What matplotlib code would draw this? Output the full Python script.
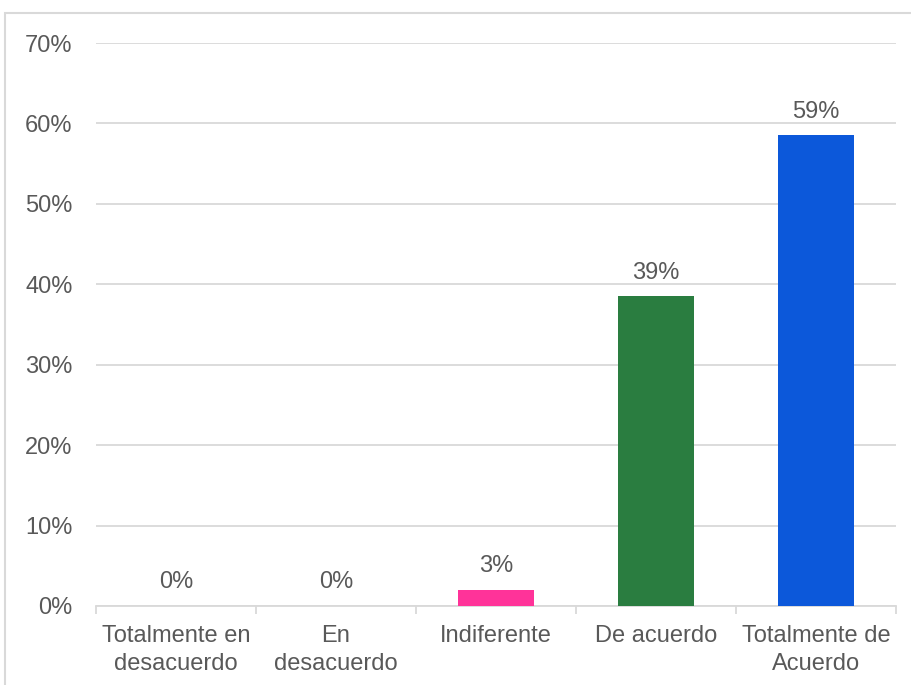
import matplotlib.pyplot as plt
from matplotlib.patches import Rectangle
from matplotlib.ticker import FuncFormatter

categories = [
    "Totalmente en\ndesacuerdo",
    "En\ndesacuerdo",
    "Indiferente",
    "De acuerdo",
    "Totalmente de\nAcuerdo",
]
values = [0.0, 0.0, 2.0, 38.5, 58.5]
value_labels = ["0%", "0%", "3%", "39%", "59%"]
bar_colors = ["#FF3399", "#FF3399", "#FF3399", "#2A7D40", "#0C58DA"]
yticks = [0, 10, 20, 30, 40, 50, 60, 70]

plt.rcParams["font.family"] = ["Liberation Sans", "DejaVu Sans"]
text_color = "#595959"
grid_color = "#D9D9D9"
fs = 17

fig = plt.figure(figsize=(9.12, 6.85), dpi=100)
ax = fig.add_axes([96 / 912, 1 - 606 / 685, 800 / 912, (606 - 43) / 685])

x = list(range(len(categories)))
bars = ax.bar(x, values, width=0.47, color=bar_colors, zorder=3)
ax.bar_label(bars, labels=value_labels, padding=9, fontsize=fs, color=text_color)

ax.set_xlim(-0.5, len(categories) - 0.5)
ax.set_ylim(0, 70)
ax.set_yticks(yticks)
ax.yaxis.set_major_formatter(FuncFormatter(lambda v, _: f"{v:.0f}%"))
ax.grid(axis="y", color=grid_color, linewidth=1.3, zorder=0)

# category labels between boundary ticks
ax.set_xticks(x)
ax.set_xticklabels(categories, linespacing=1.3)
ax.set_xticks([i - 0.5 for i in range(len(categories) + 1)], minor=True)
ax.tick_params(axis="x", which="major", length=0, pad=14, labelsize=fs,
               labelcolor=text_color)
ax.tick_params(axis="x", which="minor", length=6, width=1.3, color=grid_color)
ax.tick_params(axis="y", length=0, pad=17, labelsize=fs, labelcolor=text_color)

for side in ["top", "right", "left"]:
    ax.spines[side].set_visible(False)
ax.spines["bottom"].set_color(grid_color)
ax.spines["bottom"].set_linewidth(1.3)

# chart area border
fig.patches.append(Rectangle((5 / 912, -0.1), 1.2, 1.1 - 13 / 685,
                             transform=fig.transFigure, fill=False,
                             edgecolor=grid_color, linewidth=1.5))

fig.savefig("out.png", dpi=100)
